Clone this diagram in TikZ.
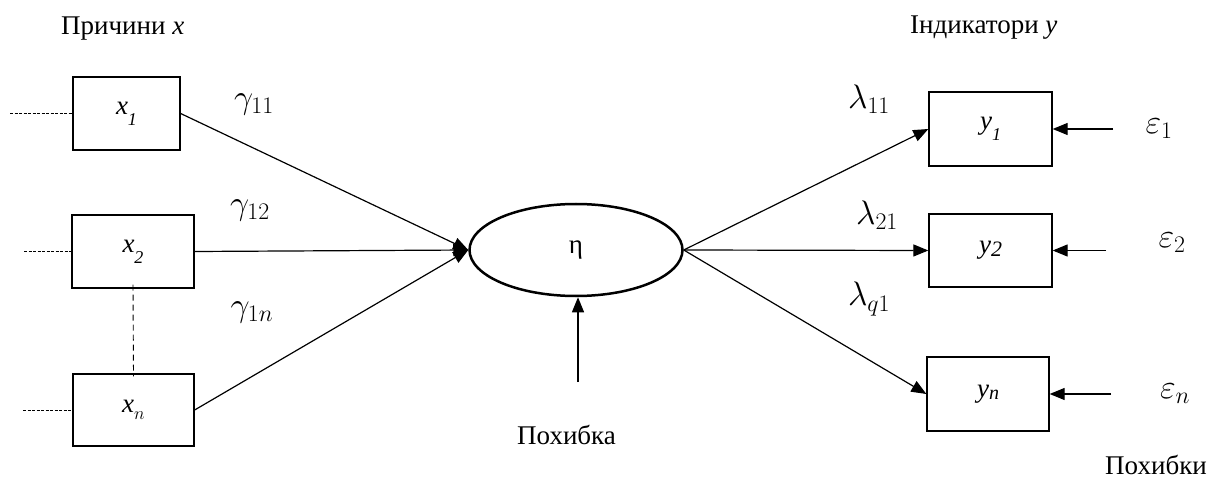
\documentclass[tikz,border=0pt]{standalone}
\usepackage{fix-cm}
\usepackage{fontspec}
\setmainfont{Liberation Serif}
\usetikzlibrary{shapes.geometric,arrows.meta}
\begin{document}
\begin{tikzpicture}[x=1pt,y=-1pt,
  txt/.style={font=\fontsize{27}{32}\selectfont, inner sep=0pt},
  mlab/.style={font=\fontsize{34}{40}\selectfont, inner sep=0pt},
  vbox/.style={draw, line width=1.3pt, inner sep=0pt, font=\fontsize{27}{32}\selectfont},
  arr/.style={line width=1.2pt, -{Triangle[length=15pt,width=12pt]}},
  dsh/.style={line width=0.9pt, dash pattern=on 3pt off 1.5pt},
  vdsh/.style={line width=0.9pt, dash pattern=on 6pt off 4pt}
]
\useasboundingbox (0,0) rectangle (1220,478);

% titles
\node[txt, anchor=base west] (tx) at (61,35) {Причини \textit{x}};
\node[txt, anchor=base west] (ty) at (910,34) {Індикатори \textit{y}};
\node[txt, anchor=base west] (err) at (517,444) {Похибка};
\node[txt, anchor=base east] (errs) at (1207,474) {Похибки};

% x boxes
\node[vbox, minimum width=107, minimum height=73] (x1) at (126.5,113.5)
  {\textit{x}\raisebox{-0.4em}{\fontsize{18}{18}\selectfont\textit{1}}};
\node[vbox, minimum width=122, minimum height=73] (x2) at (133,251.5)
  {\textit{x}\raisebox{-0.4em}{\fontsize{18}{18}\selectfont\textit{2}}};
\node[vbox, minimum width=121, minimum height=72] (xn) at (133.5,410)
  {\textit{x}\raisebox{-0.25em}{\fontsize{18}{18}\selectfont$n$}};

% y boxes
\node[vbox, minimum width=123, minimum height=74] (y1) at (990.5,129)
  {\textit{y}\raisebox{-0.4em}{\fontsize{18}{18}\selectfont\textit{1}}};
\node[vbox, minimum width=123, minimum height=73] (y2) at (990.5,250.5)
  {\textit{y}\raisebox{-0.1em}{\fontsize{22}{22}\selectfont\textit{2}}};
\node[vbox, minimum width=122, minimum height=74] (yn) at (988,394)
  {\textit{y}\raisebox{-0.1em}{\fontsize{20}{20}\selectfont\textit{n}}};

% latent variable
\node[ellipse, draw, line width=2.5pt, minimum width=213, minimum height=92,
  inner sep=0pt, font=\fontsize{27}{32}\selectfont] (eta) at (576,250) {η};

% coefficient labels
\node[mlab] (g11) at (254,104) {$\gamma_{11}$};
\node[mlab] (g12) at (250,210) {$\gamma_{12}$};
\node[mlab] (g1n) at (252,312) {$\gamma_{1n}$};
\node[mlab] (l11) at (869,99) {$\lambda_{11}$};
\node[mlab] (l21) at (877,215) {$\lambda_{21}$};
\node[mlab] (lq1) at (869,299) {$\lambda_{q1}$};
\node[mlab] (e1l) at (1159,129) {$\varepsilon_1$};
\node[mlab] (e2l) at (1172,243) {$\varepsilon_2$};
\node[mlab] (enl) at (1175,394) {$\varepsilon_n$};

% free ends
\coordinate (d1) at (10,113.5);
\coordinate (d2) at (24,251.5);
\coordinate (dn) at (23,410);
\coordinate (e1) at (1113,129);
\coordinate (e2) at (1106,250.5);
\coordinate (en) at (1111,394);
\coordinate (b) at (578,382);

% dashed lines
\draw[dsh] (d1) -- (x1.west);
\draw[dsh] (d2) -- (x2.west);
\draw[dsh] (dn) -- (xn.west);
\draw[vdsh] ([yshift=4]x2.south) -- ([yshift=-3]xn.north);

% causes -> eta
\draw[arr] (x1.east) -- (eta.west);
\draw[arr] (x2.east) -- (eta.west);
\draw[arr] (xn.east) -- (eta.west);

% eta -> indicators
\draw[arr] (eta.east) -- (y1.west);
\draw[arr] (eta.east) -- (y2.west);
\draw[arr] (eta.east) -- (yn.west);

% errors
\draw[arr] (e1) -- (y1.east);
\draw[arr] (e2) -- (y2.east);
\draw[arr] (en) -- (yn.east);
\draw[arr] (b) -- (b |- eta.south);
\end{tikzpicture}
\end{document}
